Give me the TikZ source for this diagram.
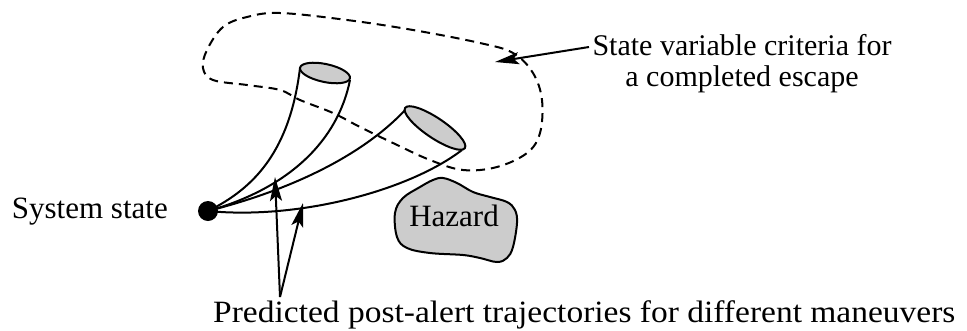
\documentclass[tikz,border=0pt]{standalone}
\usepackage{fontspec}
\setmainfont{Liberation Serif}
\usetikzlibrary{arrows.meta}
\begin{document}
\begin{tikzpicture}[x=1pt,y=-1pt,
  traj/.style={line width=2pt},
  conetop/.style={line width=2pt, fill=black!20},
  crit/.style={line width=2pt, dash pattern=on 9pt off 6pt},
  pointer/.style={line width=2pt, -{Stealth[length=24pt,width=12pt,inset=5pt]}},
  lbl/.style={font=\fontsize{31}{32}\selectfont, inner sep=0pt}]
\useasboundingbox (0,0) rectangle (967,330);
% dashed criteria region
\draw[crit] plot[smooth cycle, tension=0.6] coordinates {
  (280,13) (347,20) (413,30) (480,43) (513,53) (533,73) (542,100) (540,133)
  (527,153) (497,167) (463,170) (430,160) (393,143) (360,127) (333,113)
  (300,100) (280,90) (247,85) (213,80) (203,68) (207,50) (223,27) (247,17)};
% hazard
\draw[line width=2pt, fill=black!20] plot[smooth cycle, tension=0.6] coordinates {
  (443,178) (457,183) (473,192) (490,197) (507,202) (515,210) (517,223) (513,247)
  (507,258) (497,262) (480,258) (463,255) (430,253) (407,248) (397,237) (395,213)
  (403,198) (420,187) (433,180)};
\node[lbl] (haz) at (454,216) {Hazard};
% system state dot
\node[circle, fill=black, minimum size=20pt, inner sep=0pt] (sys) at (208,211) {};
% cones
\draw[traj] (300,68) .. controls (290,150) and (255,188) .. (sys.center);
\draw[traj] (350,80) .. controls (338,140) and (290,188) .. (sys.center);
\draw[traj] (406,109) .. controls (385,132) and (330,180) .. (sys.center);
\draw[traj] (462,150) .. controls (410,190) and (300,220) .. (sys.center);
\draw[conetop, rotate around={-12:(325,73)}] (325,73) ellipse [x radius=25.5pt, y radius=9pt];
\draw[conetop, rotate around={-34:(435,128)}] (435,128) ellipse [x radius=36pt, y radius=10pt];
% labels
\node[lbl, anchor=base east] (syslbl) at (168,218) {System state};
\node[lbl, font=\fontsize{30}{31}\selectfont, anchor=north, align=center] (critlbl) at (742,34) {State variable criteria for\\a completed escape};
\node[lbl, anchor=base west, xscale=1.08] (predlbl) at (213,322) {Predicted post-alert trajectories for different maneuvers};
% pointers
\coordinate (critend) at (589,47);
\coordinate (crittip) at (495,62);
\draw[pointer] (critend) -- (crittip);
\coordinate (fork) at (280,297);
\coordinate (tipA) at (275,177);
\coordinate (tipB) at (303,203);
\draw[pointer] (fork) -- (tipA);
\draw[pointer] (fork) -- (tipB);
\end{tikzpicture}
\end{document}
